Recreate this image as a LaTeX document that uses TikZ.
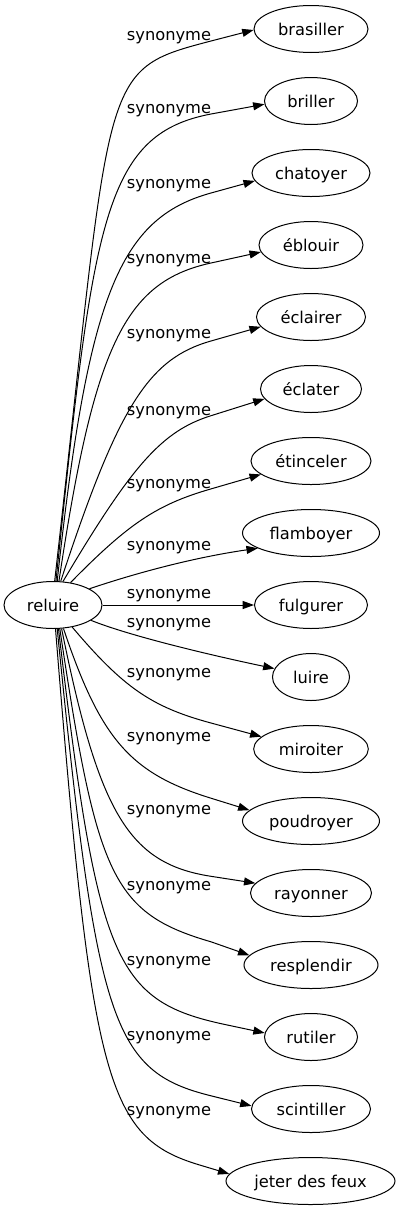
\documentclass[tikz,border=0pt]{standalone}
\usepackage{fontspec}
\setmainfont{DejaVu Sans}
\usetikzlibrary{shapes.geometric,arrows.meta}
\tikzset{
  word/.style={ellipse, draw, line width=0.75pt, inner sep=0pt, minimum height=35.25pt,
    font=\fontsize{12.2pt}{14pt}\selectfont, text height=9.27pt, text depth=0pt},
  rel/.style={anchor=base, inner sep=0pt, font=\fontsize{12.2pt}{14pt}\selectfont},
  edge/.style={line width=0.75pt, -{Triangle[length=8.5pt,width=6pt]}},
}
\begin{document}
\begin{tikzpicture}[x=0.75pt,y=-0.75pt]
\useasboundingbox (0,0) rectangle (400,1211);
% nodes
\node[word, minimum width=73.5pt] (reluire) at (53,605) {reluire};
\node[word, minimum width=85.5pt] (brasiller) at (311,29) {brasiller};
\node[word, minimum width=69.75pt] (briller) at (311,101) {briller};
\node[word, minimum width=88.5pt] (chatoyer) at (311,173) {chatoyer};
\node[word, minimum width=78pt] (eblouir) at (311,245) {éblouir};
\node[word, minimum width=81.75pt] (eclairer) at (311,317) {éclairer};
\node[word, minimum width=75.75pt] (eclater) at (311,389) {éclater};
\node[word, minimum width=90pt] (etinceler) at (311,461) {étinceler};
\node[word, minimum width=102.75pt] (flamboyer) at (311,533) {flamboyer};
\node[word, minimum width=84.75pt] (fulgurer) at (311,605) {fulgurer};
\node[word, minimum width=57.75pt] (luire) at (311,677) {luire};
\node[word, minimum width=86pt] (miroiter) at (311,749) {miroiter};
\node[word, minimum width=102.75pt] (poudroyer) at (311,821) {poudroyer};
\node[word, minimum width=90.75pt] (rayonner) at (311,893) {rayonner};
\node[word, minimum width=100.5pt] (resplendir) at (311,965) {resplendir};
\node[word, minimum width=69.75pt] (rutiler) at (311,1037) {rutiler};
\node[word, minimum width=89.25pt] (scintiller) at (311,1109) {scintiller};
\node[word, minimum width=126.75pt] (jeter) at (310.5,1181) {jeter des feux};
% labels
\node[rel] (l1) at (169,40) {synonyme};
\node[rel] (l2) at (169,113) {synonyme};
\node[rel] (l3) at (169,188) {synonyme};
\node[rel] (l4) at (169,263) {synonyme};
\node[rel] (l5) at (169,338) {synonyme};
\node[rel] (l6) at (169,415) {synonyme};
\node[rel] (l7) at (169,488) {synonyme};
\node[rel] (l8) at (169,550) {synonyme};
\node[rel] (l9) at (169,598) {synonyme};
\node[rel] (l10) at (169,627) {synonyme};
\node[rel] (l11) at (169,677) {synonyme};
\node[rel] (l12) at (169,741) {synonyme};
\node[rel] (l13) at (169,814) {synonyme};
\node[rel] (l14) at (169,890) {synonyme};
\node[rel] (l15) at (169,965) {synonyme};
\node[rel] (l16) at (169,1040) {synonyme};
\node[rel] (l17) at (169,1115) {synonyme};
% edges
\draw[edge] (reluire.86) .. controls (112.6,68.7) and (97.5,70.7) .. (211,41) -- (brasiller.181);
\draw[edge] (reluire.83) .. controls (93.1,224) and (102.4,134.6) .. (211,114) -- (briller.184);
\draw[edge] (reluire.80) .. controls (88,296.1) and (118.8,218.4) .. (211,193) -- (chatoyer.188);
\draw[edge] (reluire.76) .. controls (94.2,345.5) and (124.7,281.8) .. (211,263) -- (eblouir.188);
\draw[edge] (reluire.72) .. controls (118.1,406.8) and (148.2,358.7) .. (211,341) -- (eclairer.191);
\draw[edge] (reluire.67) .. controls (132.6,464.2) and (162.2,431) .. (211,415.7) -- (eclater.192);
\draw[edge] (reluire.52) .. controls (128.7,523.4) and (156.8,504.5) .. (211,488.9) -- (etinceler.195);
\draw[edge] (reluire.24) .. controls (130,575) and (190,558) .. (flamboyer.196);
\draw[edge] (reluire) -- (fulgurer);
\draw[edge] (reluire.-22) .. controls (130,636) and (210,655) .. (luire.167);
\draw[edge] (reluire.-49) .. controls (123.5,687.7) and (151.6,707) .. (211,723) -- (miroiter.166);
\draw[edge] (reluire.-66) .. controls (100.6,739.1) and (130.1,773.2) .. (211,798.2) -- (poudroyer.170);
\draw[edge] (reluire.-70) .. controls (99.1,814) and (129,863.6) .. (211,876.3) -- (rayonner.170);
\draw[edge] (reluire.-74) .. controls (96.8,876) and (112,913) .. (211,941.8) -- (resplendir.171);
\draw[edge] (reluire.-77) .. controls (97.6,961.3) and (114.3,1000.9) .. (225,1024.5) -- (rutiler.175);
\draw[edge] (reluire.-80) .. controls (96.7,1024.6) and (112.1,1071.3) .. (211,1095.8) -- (scintiller.177);
\draw[edge] (reluire.-84) .. controls (91.9,1083.5) and (106.3,1137.2) .. (200,1165.1) -- (jeter.175);
\end{tikzpicture}
\end{document}
